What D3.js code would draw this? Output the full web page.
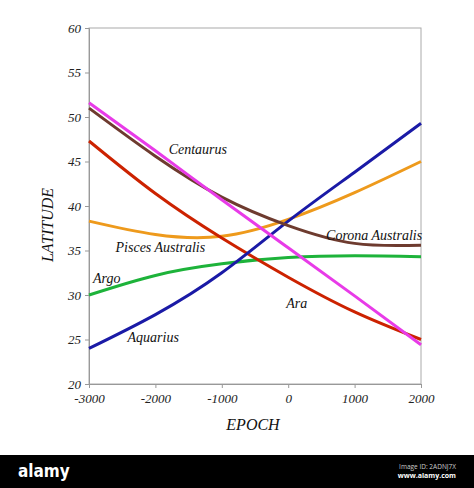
<!DOCTYPE html><html><head><meta charset="utf-8"><script src="https://cdn.jsdelivr.net/npm/d3@7"></script>
<style>body{margin:0;background:#fff}</style></head><body><svg id="c" width="474" height="488"></svg>
<script>
const epochs=[-3000,-2000,-1000,0,1000,2000];
const aquarius=[24,27.8,32.5,38.3,43.8,49.3];
const centaurus=[51.6,46.2,40.7,35.3,29.9,24.4];
const corona=[51,45.6,41,37.8,35.8,35.6];
const pisces=[38.3,36.8,36.6,38.5,41.5,45];
const ara=[47.3,41.4,36.4,32,28.1,25];
const argo=[30,32.2,33.5,34.2,34.4,34.3];
const yTicks=[20,25,30,35,40,45,50,55,60];
const xTicks=[-3000,-2000,-1000,0,1000,2000];
const series=[
 {v:argo,c:"#1db33a"},{v:pisces,c:"#ee9a1c"},{v:ara,c:"#cc2200"},
 {v:aquarius,c:"#1a1aa6"},{v:corona,c:"#6e3b2f"},{v:centaurus,c:"#e83be8"}];
const labels=[["Centaurus",-1800,45.8],["Pisces Australis",-2600,34.8],["Argo",-2940,31.4],["Aquarius",-2420,24.7],["Ara",-30,28.5],["Corona Australis",570,36.2]];
const svg=d3.select("#c");
const x=d3.scaleLinear().domain([-3000,2000]).range([89,421]);
const y=d3.scaleLinear().domain([20,60]).range([384,28]);
const f="'Liberation Serif',serif";
svg.append("rect").attr("x",89).attr("y",28).attr("width",332).attr("height",356).attr("fill","none").attr("stroke","#aaa");
const ya=svg.append("g").attr("transform","translate(89,0)").call(d3.axisLeft(y).tickValues(yTicks).tickSize(4).tickPadding(4));
const xa=svg.append("g").attr("transform","translate(0,384)").call(d3.axisBottom(x).tickValues(xTicks).tickFormat(d=>String(d)).tickSize(4).tickPadding(6));
[ya,xa].forEach(a=>{a.select(".domain").attr("stroke","#999");a.selectAll("line").attr("stroke","#999");a.selectAll("text").attr("font-family",f).attr("font-style","italic").attr("font-size",13).attr("fill","#222");});
const line=d3.line().x((d,i)=>x(epochs[i])).y(d=>y(d)).curve(d3.curveNatural);
series.forEach(s=>svg.append("path").attr("d",line(s.v)).attr("fill","none").attr("stroke",s.c).attr("stroke-width",3));
labels.forEach(l=>svg.append("text").attr("x",x(l[1])).attr("y",y(l[2])).text(l[0]).attr("font-family",f).attr("font-style","italic").attr("font-size",14).attr("fill","#111"));
svg.append("text").attr("transform","translate(53,225) rotate(-90)").attr("text-anchor","middle").text("LATITUDE").attr("font-family",f).attr("font-style","italic").attr("font-size",16).attr("fill","#111");
svg.append("text").attr("x",253).attr("y",430).attr("text-anchor","middle").text("EPOCH").attr("font-family",f).attr("font-style","italic").attr("font-size",16).attr("fill","#111");
svg.append("rect").attr("x",0).attr("y",455).attr("width",474).attr("height",33).attr("fill","#000");
svg.append("text").attr("x",18).attr("y",477).text("alamy").attr("font-family","'DejaVu Sans Condensed',sans-serif").attr("font-weight","bold").attr("font-size",17).attr("fill","#fff");
svg.append("text").attr("x",456).attr("y",469).attr("text-anchor","end").text("Image ID: 2ADNJ7X").attr("font-family","'Open Sans',sans-serif").attr("font-size",6.5).attr("fill","#ccc");
svg.append("text").attr("x",456).attr("y",478).attr("text-anchor","end").text("www.alamy.com").attr("font-family","'Open Sans',sans-serif").attr("font-weight","bold").attr("font-size",7).attr("fill","#fff");
</script></body></html>
